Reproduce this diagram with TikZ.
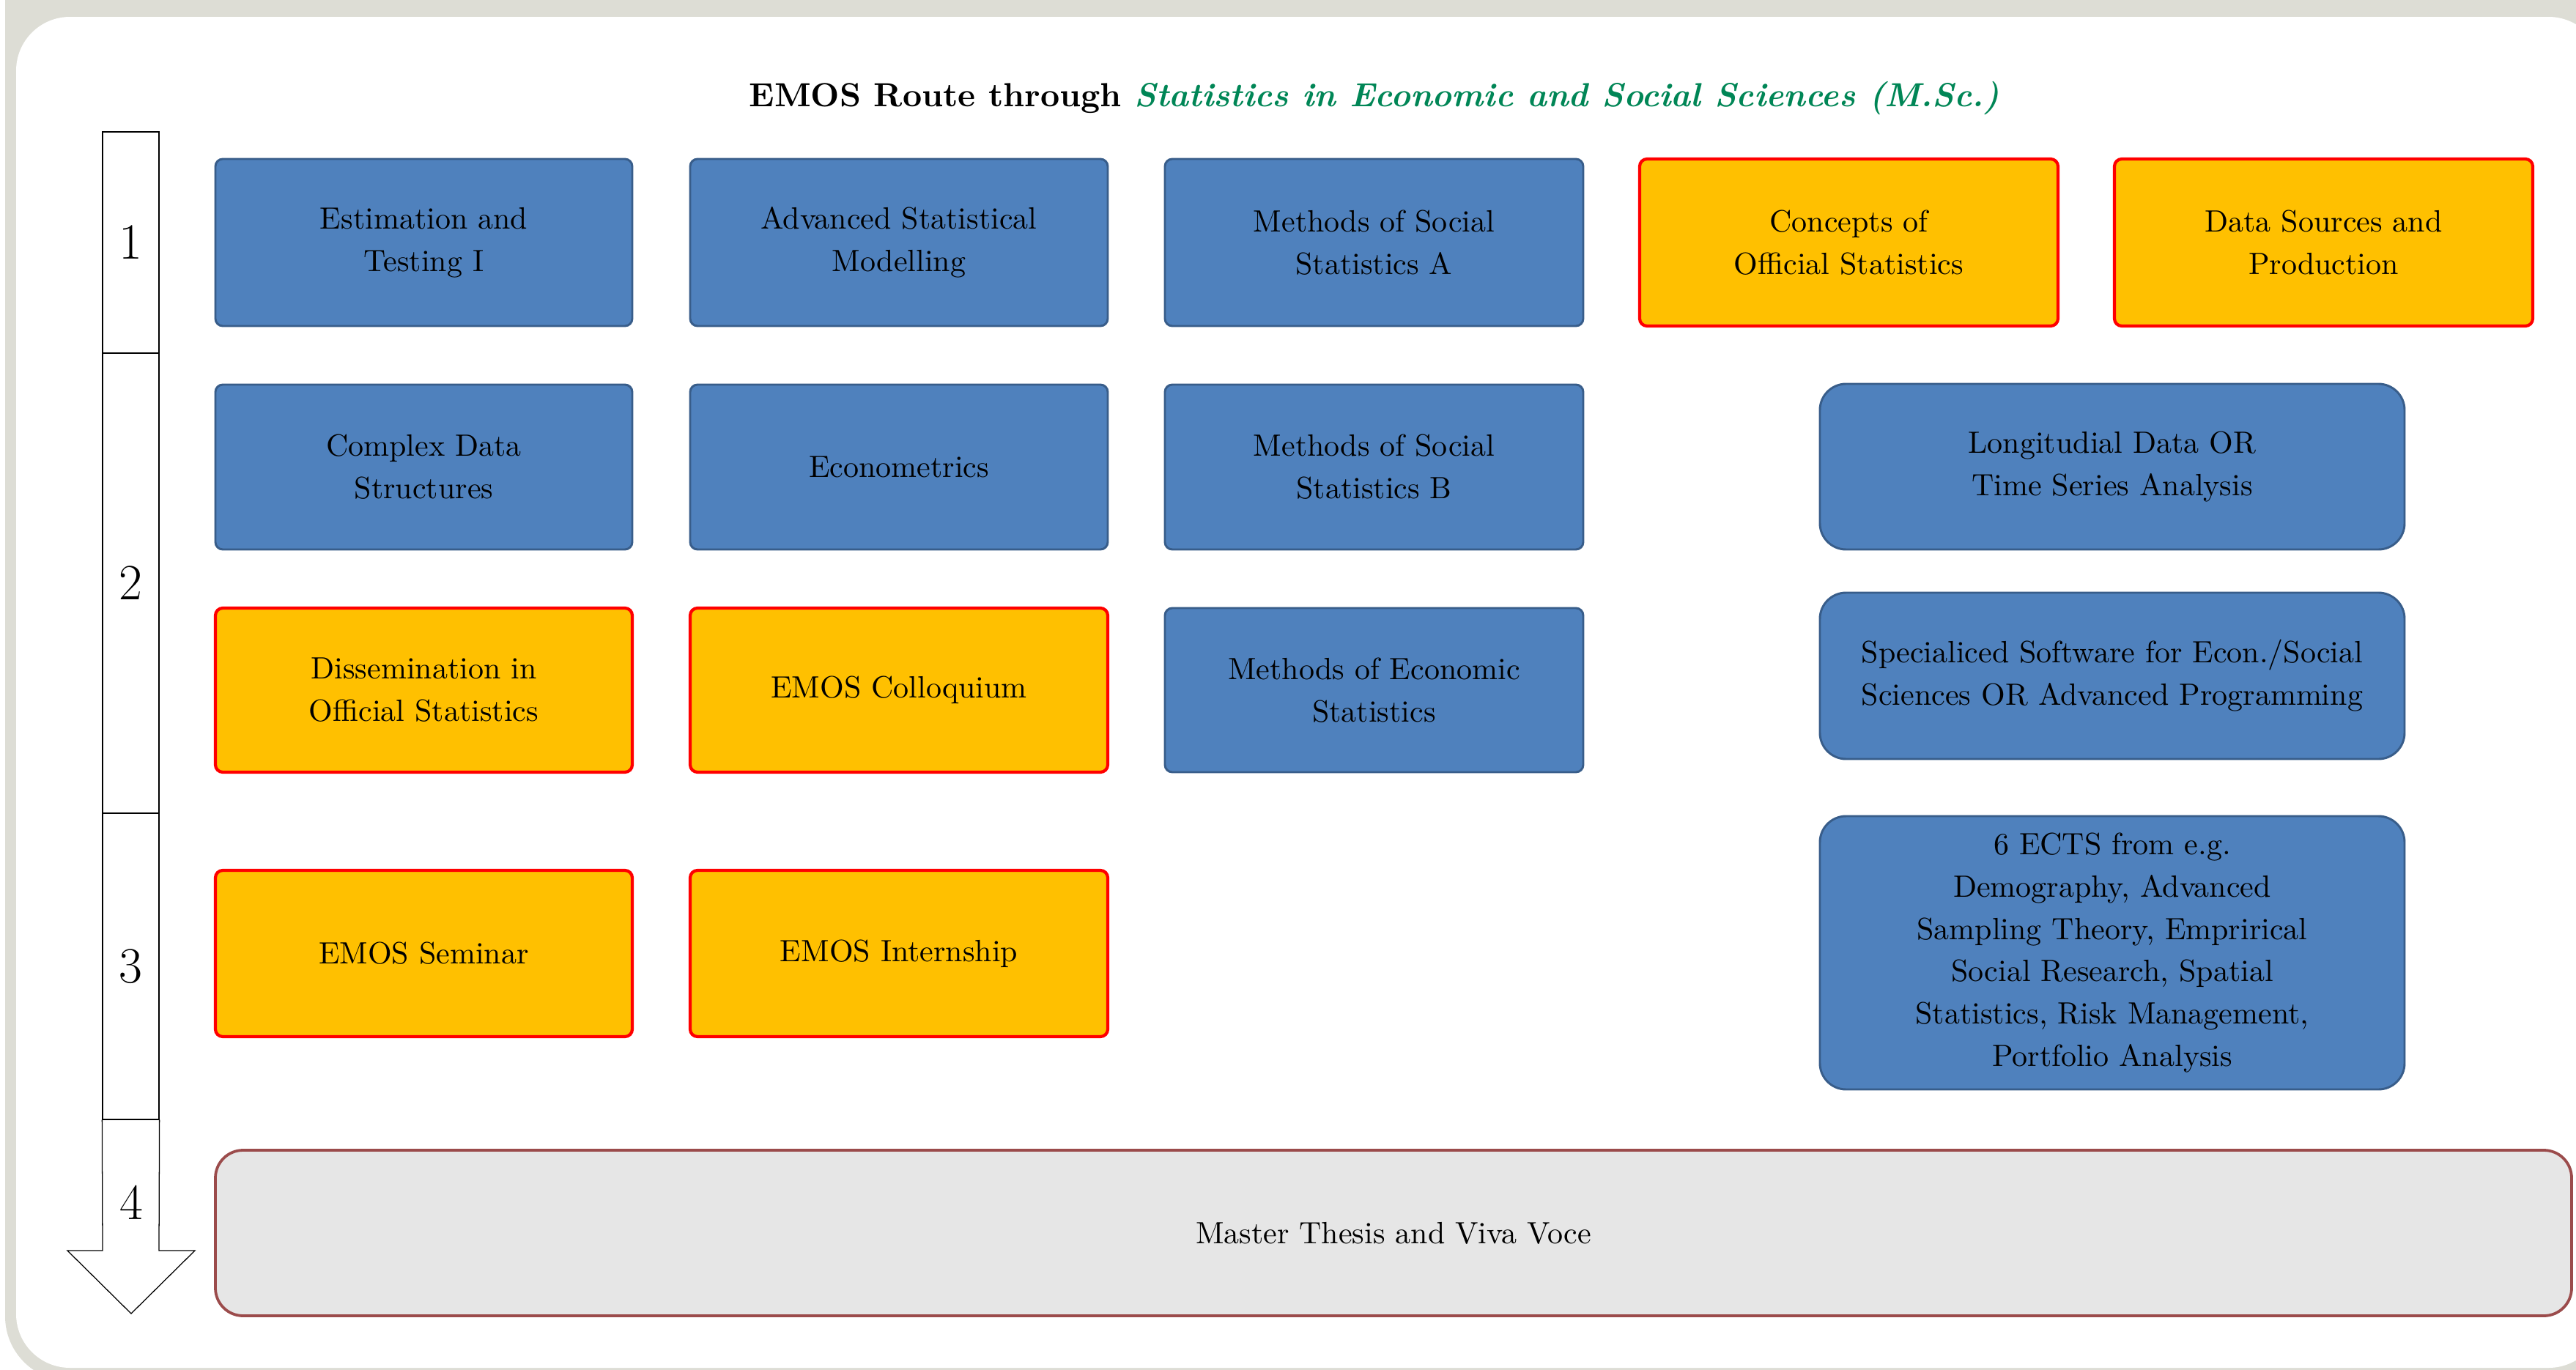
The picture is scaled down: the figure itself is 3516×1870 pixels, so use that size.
\documentclass[tikz,border=0pt]{standalone}
\newdimen\px \px=0.2381pt
\definecolor{bgray}{RGB}{221,221,213}
\definecolor{bfill}{RGB}{79,129,189}
\definecolor{bline}{RGB}{56,93,138}
\definecolor{ofill}{RGB}{255,192,0}
\definecolor{oline}{RGB}{255,0,0}
\definecolor{mfill}{RGB}{230,230,230}
\definecolor{mline}{RGB}{155,75,75}
\definecolor{egreen}{RGB}{0,134,86}
\newcommand\emosbox[7]{\node[#6, minimum width={(#4-#2)*\px}, minimum height={(#5-#3)*\px}] (#1) at ({(#2+#4)/2},{(#3+#5)/2}) {#7};}
\begin{document}
\begin{tikzpicture}[x=0.2381pt,y=-0.2381pt,
  box/.style={draw, rectangle, align=center, inner sep=2pt, font=\fontsize{10}{13.8}\selectfont},
  bluebox/.style={box, fill=bfill, draw=bline, line width=0.7pt, rounded corners=2.4pt},
  orbox/.style={box, fill=ofill, draw=oline, line width=1pt, rounded corners=2.4pt},
  rbox/.style={box, fill=bfill, draw=bline, line width=0.7pt, rounded corners=8.5pt},
  mbox/.style={box, fill=mfill, draw=mline, line width=0.9pt, rounded corners=9pt},
  seg/.style={draw, rectangle, line width=0.3pt, inner sep=0pt, font=\fontsize{16.5}{20}\selectfont},
  segline/.style={draw, line width=0.3pt}
]
\useasboundingbox (0,0) rectangle (3516,1870);
\clip (0,0) rectangle (3516,1870);
% background frame
\fill[white] (0,0) rectangle (3516,1870);
\fill[bgray, rounded corners=21pt] (7,-400) rectangle (3900,1885);
\fill[white, rounded corners=17.5pt] (22,23) rectangle (3552,1867);

% title
\node[anchor=base, font=\fontsize{10.85}{12}\selectfont\bfseries] (title) at (1876,145)
  {EMOS Route through \textcolor{egreen}{\itshape Statistics in Economic and Social Sciences (M.Sc.)}};

% timeline
\emosbox{t1}{140}{180}{217}{482}{seg}{1}
\emosbox{t2}{140}{482}{217}{1110}{seg}{2}
\emosbox{t3}{140}{1110}{217}{1528}{seg}{3}
\coordinate (aL) at (140,1707);
\coordinate (aR) at (217,1707);
\coordinate (aTip) at (179,1793);
\draw[segline] (t3.south west) -- (aL) -- (92,1707) -- (aTip) -- (266,1707) -- (aR) -- (t3.south east);
\node[font=\fontsize{16.5}{20}\selectfont] (t4) at (179,1641) {4};

% row 1
\emosbox{a1}{294}{217}{863}{445}{bluebox}{Estimation and\\Testing I}
\emosbox{a2}{942}{217}{1512}{445}{bluebox}{Advanced Statistical\\Modelling}
\emosbox{a3}{1590}{217}{2161}{445}{bluebox}{Methods of Social\\Statistics A}
\emosbox{a4}{2238}{217}{2809}{445}{orbox}{Concepts of\\Official Statistics}
\emosbox{a5}{2886}{217}{3457}{445}{orbox}{Data Sources and\\Production}
% row 2
\emosbox{b1}{294}{525}{863}{750}{bluebox}{Complex Data\\Structures}
\emosbox{b2}{942}{525}{1512}{750}{bluebox}{Econometrics}
\emosbox{b3}{1590}{525}{2161}{750}{bluebox}{Methods of Social\\Statistics B}
\emosbox{b4}{2484}{524}{3282}{750}{rbox}{Longitudial Data OR\\Time Series Analysis}
% row 3
\emosbox{c1}{294}{830}{863}{1054}{orbox}{Dissemination in\\Official Statistics}
\emosbox{c2}{942}{830}{1512}{1054}{orbox}{EMOS Colloquium}
\emosbox{c3}{1590}{830}{2161}{1054}{bluebox}{Methods of Economic\\Statistics}
\emosbox{c4}{2484}{809}{3282}{1036}{rbox}{Specialiced Software for Econ./Social\\Sciences OR Advanced Programming}
% row 4
\emosbox{d1}{294}{1188}{863}{1415}{orbox}{EMOS Seminar}
\emosbox{d2}{942}{1188}{1512}{1415}{orbox}{EMOS Internship}
\emosbox{d4}{2484}{1114}{3282}{1487}{rbox}{6 ECTS from e.g.\\Demography, Advanced\\Sampling Theory, Emprirical\\Social Research, Spatial\\Statistics, Risk Management,\\Portfolio Analysis}
% master
\emosbox{m}{294}{1570}{3510}{1796}{mbox}{Master Thesis and Viva Voce}
\end{tikzpicture}
\end{document}
